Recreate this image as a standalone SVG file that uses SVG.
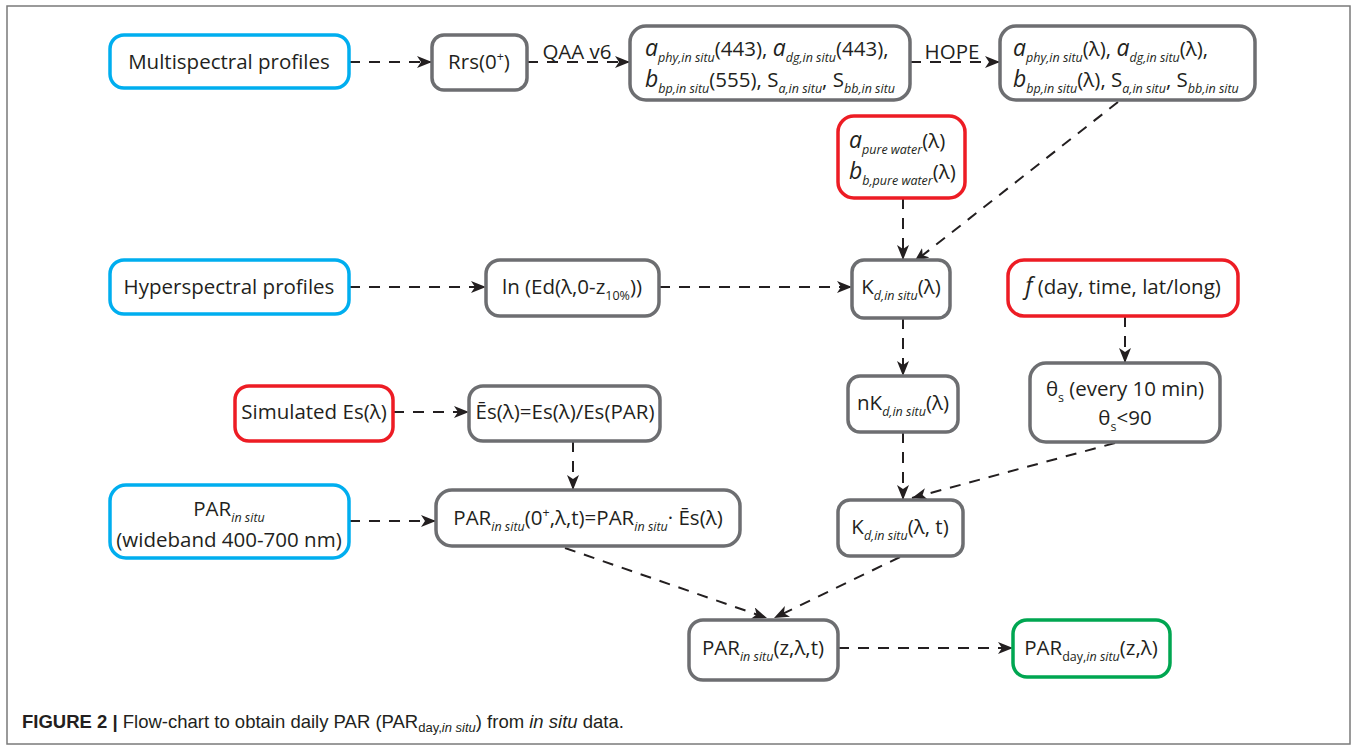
<svg xmlns="http://www.w3.org/2000/svg" width="1358" height="746" viewBox="0 0 1358 746">
<style>
.t{font-family:"Open Sans","Liberation Sans",sans-serif;font-size:20.5px;fill:#231f20}
.s{font-size:12.5px}
.i{font-style:italic}
.L{font-size:23px;font-style:italic}
.box{fill:#fff;stroke-width:3.5}
.g{stroke:#6d6e71}
.b{stroke:#00aeef}
.r{stroke:#ed1c24}
.gr{stroke:#00a651}
.c{fill:none;stroke:#231f20;stroke-width:2;stroke-dasharray:11 9}
.cap{font-family:"Liberation Sans",Arial,sans-serif;font-size:18.5px;fill:#231f20}
</style>
<defs>
<marker id="ah" markerUnits="userSpaceOnUse" markerWidth="16" markerHeight="12" refX="15" refY="6" orient="auto">
<path d="M0,0 L15,6 L0,12 L4,6 z" fill="#231f20"/>
</marker>
</defs>
<rect x="7" y="6" width="1343" height="738" fill="none" stroke="#7a7a7a" stroke-width="1.5"/>

<g id="connectors">
<path class="c" d="M349,62 H432" marker-end="url(#ah)"/>
<path class="c" d="M527,62 H630" marker-end="url(#ah)"/>
<path class="c" d="M910,62 H1000" marker-end="url(#ah)"/>
<path class="c" d="M1118,102 L914,262" marker-end="url(#ah)"/>
<path class="c" d="M903,198 V260" marker-end="url(#ah)"/>
<path class="c" d="M349,287 H486" marker-end="url(#ah)"/>
<path class="c" d="M659,287 H852" marker-end="url(#ah)"/>
<path class="c" d="M1125,316 V363" marker-end="url(#ah)"/>
<path class="c" d="M903,318 V376" marker-end="url(#ah)"/>
<path class="c" d="M903,432 V500" marker-end="url(#ah)"/>
<path class="c" d="M1115,443 L912,498" marker-end="url(#ah)"/>
<path class="c" d="M393,412 H469" marker-end="url(#ah)"/>
<path class="c" d="M573,441 V490" marker-end="url(#ah)"/>
<path class="c" d="M349,521 H436" marker-end="url(#ah)"/>
<path class="c" d="M565,548 L767,618" marker-end="url(#ah)"/>
<path class="c" d="M900,557 L774,618" marker-end="url(#ah)"/>
<path class="c" d="M838,648 H1013" marker-end="url(#ah)"/>
<text class="t" x="577" y="59" text-anchor="middle">QAA v6</text>
<text class="t" x="952" y="59" text-anchor="middle">HOPE</text>
</g>

<g id="multispectral">
<rect class="box b" x="110" y="35" width="239" height="53" rx="14"/>
<text class="t" x="229" y="69" text-anchor="middle">Multispectral profiles</text>
</g>

<g id="rrs">
<rect class="box g" x="432" y="35" width="95" height="55" rx="12"/>
<text class="t" x="479" y="69" text-anchor="middle">Rrs(0<tspan class="s" dy="-8">+</tspan><tspan dy="8">)</tspan></text>
</g>

<g id="qaa-out">
<rect class="box g" x="630" y="26" width="280" height="74" rx="16"/>
<text class="t" x="645" y="56"><tspan class="L">a</tspan><tspan class="s i" dy="6">phy,in situ</tspan><tspan dy="-6">(443), </tspan><tspan class="L">a</tspan><tspan class="s i" dy="6">dg,in situ</tspan><tspan dy="-6">(443),</tspan></text>
<text class="t" x="645" y="87"><tspan class="L">b</tspan><tspan class="s i" dy="6">bp,in situ</tspan><tspan dy="-6">(555), S</tspan><tspan class="s i" dy="6">a,in situ</tspan><tspan dy="-6">, S</tspan><tspan class="s i" dy="6">bb,in situ</tspan></text>
</g>

<g id="hope-out">
<rect class="box g" x="1000" y="26" width="255" height="74" rx="16"/>
<text class="t" x="1013" y="56"><tspan class="L">a</tspan><tspan class="s i" dy="6">phy,in situ</tspan><tspan dy="-6">(λ), </tspan><tspan class="L">a</tspan><tspan class="s i" dy="6">dg,in situ</tspan><tspan dy="-6">(λ),</tspan></text>
<text class="t" x="1013" y="87"><tspan class="L">b</tspan><tspan class="s i" dy="6">bp,in situ</tspan><tspan dy="-6">(λ), S</tspan><tspan class="s i" dy="6">a,in situ</tspan><tspan dy="-6">, S</tspan><tspan class="s i" dy="6">bb,in situ</tspan></text>
</g>

<g id="pure-water">
<rect class="box r" x="838" y="116" width="127" height="82" rx="16"/>
<text class="t" x="849" y="148"><tspan class="L">a</tspan><tspan class="s i" dy="6">pure water</tspan><tspan dy="-6">(λ)</tspan></text>
<text class="t" x="849" y="179"><tspan class="L">b</tspan><tspan class="s i" dy="6">b,pure water</tspan><tspan dy="-6">(λ)</tspan></text>
</g>

<g id="hyperspectral">
<rect class="box b" x="110" y="260" width="239" height="54" rx="14"/>
<text class="t" x="229" y="294" text-anchor="middle">Hyperspectral profiles</text>
</g>

<g id="ln-ed">
<rect class="box g" x="486" y="260" width="173" height="56" rx="14"/>
<text class="t" x="572" y="294" text-anchor="middle">ln (Ed(λ,0-z<tspan class="s" dy="6">10%</tspan><tspan dy="-6">))</tspan></text>
</g>

<g id="kd">
<rect class="box g" x="852" y="260" width="98" height="58" rx="12"/>
<text class="t" x="901" y="294" text-anchor="middle">K<tspan class="s i" dy="6">d,in situ</tspan><tspan dy="-6">(λ)</tspan></text>
</g>

<g id="f-day">
<rect class="box r" x="1008" y="260" width="230" height="56" rx="16"/>
<text class="t" x="1123" y="294" text-anchor="middle"><tspan class="L">f</tspan> (day, time, lat/long)</text>
</g>

<g id="theta">
<rect class="box g" x="1030" y="363" width="190" height="79" rx="16"/>
<text class="t" x="1125" y="396" text-anchor="middle">θ<tspan class="s" dy="6">s</tspan><tspan dy="-6"> (every 10 min)</tspan></text>
<text class="t" x="1125" y="425" text-anchor="middle">θ<tspan class="s" dy="6">s</tspan><tspan dy="-6">&lt;90</tspan></text>
</g>

<g id="nkd">
<rect class="box g" x="848" y="376" width="110" height="56" rx="12"/>
<text class="t" x="903" y="410" text-anchor="middle">nK<tspan class="s i" dy="6">d,in situ</tspan><tspan dy="-6">(λ)</tspan></text>
</g>

<g id="simulated">
<rect class="box r" x="235" y="386" width="158" height="55" rx="14"/>
<text class="t" x="314" y="419" text-anchor="middle">Simulated Es(λ)</text>
</g>

<g id="es-norm">
<rect class="box g" x="469" y="386" width="191" height="55" rx="14"/>
<text class="t" x="565" y="419" text-anchor="middle">Ēs(λ)=Es(λ)/Es(PAR)</text>
</g>

<g id="par-insitu">
<rect class="box b" x="110" y="485" width="239" height="73" rx="16"/>
<text class="t" x="229" y="516" text-anchor="middle">PAR<tspan class="s i" dy="6">in situ</tspan></text>
<text class="t" x="229" y="547" text-anchor="middle">(wideband 400-700 nm)</text>
</g>

<g id="par-0">
<rect class="box g" x="436" y="490" width="304" height="56" rx="16"/>
<text class="t" x="588" y="525" text-anchor="middle">PAR<tspan class="s i" dy="6">in situ</tspan><tspan dy="-6">(0</tspan><tspan class="s" dy="-8">+</tspan><tspan dy="8">,λ,t)=PAR</tspan><tspan class="s i" dy="6">in situ</tspan><tspan dy="-6">·  Ēs(λ)</tspan></text>
</g>

<g id="kd-t">
<rect class="box g" x="838" y="500" width="125" height="56" rx="12"/>
<text class="t" x="900" y="534" text-anchor="middle">K<tspan class="s i" dy="6">d,in situ</tspan><tspan dy="-6">(λ, t)</tspan></text>
</g>

<g id="par-z">
<rect class="box g" x="689" y="620" width="149" height="60" rx="14"/>
<text class="t" x="763" y="655" text-anchor="middle">PAR<tspan class="s i" dy="6">in situ</tspan><tspan dy="-6">(z,λ,t)</tspan></text>
</g>

<g id="par-day">
<rect class="box gr" x="1013" y="620" width="157" height="57" rx="14"/>
<text class="t" x="1091" y="655" text-anchor="middle">PAR<tspan class="s" dy="6">day,</tspan><tspan class="s i">in situ</tspan><tspan dy="-6">(z,λ)</tspan></text>
</g>

<text class="cap" x="22" y="728"><tspan font-weight="bold">FIGURE 2 |</tspan> Flow-chart to obtain daily PAR (PAR<tspan font-size="13" dy="4">day,</tspan><tspan font-size="13" font-style="italic">in situ</tspan><tspan dy="-4">) from </tspan><tspan font-style="italic">in situ</tspan> data.</text>
</svg>
